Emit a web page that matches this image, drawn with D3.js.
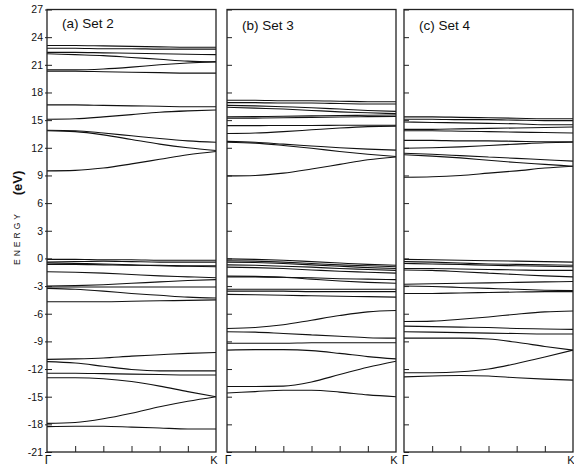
<!DOCTYPE html>
<html><head><meta charset="utf-8">
<script src="https://cdn.jsdelivr.net/npm/d3@7"></script>
<style>body{margin:0;background:#fff}svg{display:block}text{font-family:"Liberation Sans",Arial,sans-serif;fill:#111}</style>
</head><body>
<script>
// ---- data ----
const kPoints = [0,1,2,3,4,5,6];
const yTicks = [27,24,21,18,15,12,9,6,3,0,-3,-6,-9,-12,-15,-18,-21];
const panelTitles = ["(a) Set 2","(b) Set 3","(c) Set 4"];
const set2Bands = [
 [23.1,23.1,23.05,23.0,22.95,22.9,22.9],
 [22.8,22.8,22.75,22.75,22.7,22.7,22.7],
 [22.35,22.35,22.3,22.25,22.2,22.15,22.1],
 [22.2,22.1,22.0,21.8,21.6,21.4,21.3],
 [20.45,20.45,20.55,20.75,21.0,21.2,21.35],
 [20.3,20.3,20.25,20.2,20.15,20.1,20.1],
 [16.65,16.65,16.6,16.55,16.5,16.45,16.45],
 [15.1,15.15,15.35,15.6,15.85,16.0,16.1],
 [13.9,13.85,13.6,13.3,13.0,12.75,12.6],
 [13.85,13.75,13.4,12.9,12.4,12.0,11.7],
 [9.5,9.55,9.8,10.25,10.75,11.25,11.6],
 [-0.1,-0.1,-0.15,-0.15,-0.2,-0.2,-0.2],
 [-0.4,-0.35,-0.3,-0.35,-0.4,-0.4,-0.4],
 [-0.5,-0.55,-0.6,-0.7,-0.8,-0.85,-0.9],
 [-0.65,-0.65,-0.7,-0.75,-0.75,-0.8,-0.8],
 [-1.45,-1.5,-1.6,-1.75,-1.9,-2.0,-2.1],
 [-3.0,-2.95,-2.85,-2.7,-2.55,-2.4,-2.3],
 [-3.1,-3.1,-3.1,-3.1,-3.1,-3.1,-3.1],
 [-3.25,-3.35,-3.55,-3.8,-4.0,-4.2,-4.3],
 [-4.7,-4.7,-4.7,-4.65,-4.6,-4.55,-4.5],
 [-10.95,-10.9,-10.8,-10.6,-10.45,-10.3,-10.2],
 [-11.2,-11.35,-11.7,-12.05,-12.2,-12.2,-12.2],
 [-12.45,-12.45,-12.5,-12.55,-12.6,-12.65,-12.65],
 [-12.95,-12.95,-13.05,-13.35,-13.85,-14.45,-15.0],
 [-17.9,-17.8,-17.4,-16.8,-16.1,-15.5,-15.0],
 [-18.25,-18.2,-18.2,-18.3,-18.4,-18.5,-18.5]
];
const set3Bands = [
 [17.15,17.15,17.1,17.1,17.05,17.0,17.0],
 [16.9,16.9,16.85,16.85,16.8,16.75,16.75],
 [16.6,16.55,16.45,16.35,16.2,16.05,15.95],
 [16.4,16.3,16.2,16.05,15.9,15.8,15.7],
 [15.35,15.38,15.42,15.46,15.5,15.53,15.55],
 [15.2,15.22,15.26,15.3,15.34,15.38,15.4],
 [14.4,14.4,14.42,14.42,14.44,14.45,14.45],
 [13.55,13.6,13.75,13.95,14.15,14.3,14.35],
 [12.7,12.6,12.4,12.2,12.0,11.85,11.75],
 [12.6,12.5,12.25,11.95,11.6,11.3,11.05],
 [8.95,9.0,9.25,9.7,10.2,10.7,11.0],
 [-0.05,-0.1,-0.2,-0.35,-0.5,-0.65,-0.75],
 [-0.25,-0.3,-0.4,-0.55,-0.7,-0.8,-0.9],
 [-0.4,-0.45,-0.55,-0.7,-0.85,-1.0,-1.1],
 [-0.7,-0.75,-0.85,-0.95,-1.1,-1.2,-1.3],
 [-0.95,-1.0,-1.1,-1.25,-1.4,-1.5,-1.6],
 [-1.9,-1.95,-2.05,-2.25,-2.45,-2.6,-2.7],
 [-2.0,-2.0,-2.05,-2.1,-2.2,-2.25,-2.3],
 [-3.35,-3.35,-3.35,-3.35,-3.35,-3.35,-3.35],
 [-3.55,-3.55,-3.55,-3.6,-3.6,-3.6,-3.6],
 [-3.9,-3.95,-4.0,-4.05,-4.1,-4.15,-4.2],
 [-7.6,-7.5,-7.2,-6.7,-6.2,-5.8,-5.65],
 [-7.95,-8.0,-8.15,-8.3,-8.45,-8.6,-8.65],
 [-9.2,-9.2,-9.2,-9.15,-9.15,-9.15,-9.15],
 [-9.95,-9.9,-9.9,-10.0,-10.3,-10.65,-10.9],
 [-13.9,-13.9,-13.85,-13.4,-12.6,-11.8,-11.15],
 [-14.6,-14.45,-14.3,-14.3,-14.5,-14.8,-15.0]
];
const set4Bands = [
 [15.35,15.35,15.3,15.25,15.2,15.15,15.15],
 [15.1,15.1,15.05,15.05,15.0,14.95,14.95],
 [14.8,14.75,14.7,14.65,14.6,14.5,14.5],
 [14.0,14.0,14.05,14.1,14.15,14.2,14.25],
 [13.85,13.85,13.8,13.75,13.7,13.65,13.6],
 [12.8,12.8,12.75,12.75,12.7,12.65,12.65],
 [11.95,12.0,12.1,12.25,12.4,12.55,12.6],
 [11.4,11.3,11.15,11.0,10.85,10.7,10.55],
 [11.25,11.1,10.9,10.65,10.4,10.2,10.0],
 [8.8,8.85,9.0,9.25,9.5,9.8,10.0],
 [-0.1,-0.15,-0.2,-0.25,-0.3,-0.35,-0.4],
 [-0.35,-0.4,-0.5,-0.6,-0.65,-0.7,-0.75],
 [-0.55,-0.6,-0.65,-0.75,-0.8,-0.85,-0.9],
 [-1.1,-1.1,-1.15,-1.2,-1.25,-1.3,-1.3],
 [-1.25,-1.3,-1.45,-1.6,-1.75,-1.9,-2.0],
 [-2.8,-2.75,-2.7,-2.65,-2.6,-2.55,-2.5],
 [-3.0,-3.05,-3.15,-3.25,-3.35,-3.45,-3.5],
 [-3.8,-3.8,-3.75,-3.7,-3.65,-3.6,-3.6],
 [-6.85,-6.8,-6.6,-6.35,-6.05,-5.8,-5.7],
 [-7.35,-7.4,-7.45,-7.5,-7.6,-7.65,-7.7],
 [-7.95,-8.0,-8.05,-8.1,-8.15,-8.2,-8.2],
 [-8.65,-8.65,-8.65,-8.75,-9.1,-9.55,-9.95],
 [-12.4,-12.4,-12.3,-12.0,-11.4,-10.7,-9.95],
 [-12.85,-12.75,-12.7,-12.75,-12.95,-13.1,-13.2]
];
const allSets = [set2Bands, set3Bands, set4Bands];

// ---- layout ----
const W = 574, H = 466;
const panelX = [[47,216],[227,396],[404,573]];
const plotTop = 9.5, plotBottom = 452;
const svg = d3.select("body").append("svg").attr("width",W).attr("height",H);
const y = d3.scaleLinear().domain([-21,27]).range([plotBottom, plotTop]);

panelX.forEach((px, i) => {
  const x = d3.scaleLinear().domain([0,6]).range(px);
  const g = svg.append("g");
  const line = d3.line().x((d,j)=>x(kPoints[j])).y(d=>y(d)).curve(d3.curveMonotoneX);
  g.selectAll("path.band").data(allSets[i]).join("path")
    .attr("class","band").attr("d", line)
    .attr("fill","none").attr("stroke","#111").attr("stroke-width",1.1);
  const yAx = d3.axisRight(y).tickValues(yTicks).tickSize(5).tickFormat("");
  const ya = g.append("g").attr("transform",`translate(${px[0]},0)`).call(yAx);
  ya.select(".domain").remove();
  ya.selectAll("line").attr("stroke","#222");
  const xAx = d3.axisTop(x).tickValues([1,2,3,4,5]).tickSize(6).tickFormat("");
  const xa = g.append("g").attr("transform",`translate(0,${plotBottom})`).call(xAx);
  xa.select(".domain").remove();
  xa.selectAll("line").attr("stroke","#222");
  g.append("rect").attr("x",px[0]).attr("y",plotTop).attr("width",px[1]-px[0]).attr("height",plotBottom-plotTop)
    .attr("fill","none").attr("stroke","#222").attr("stroke-width",1.3);
  g.append("text").attr("x",px[0]+15).attr("y", i===0?28:30).attr("font-size",13.5).text(panelTitles[i]);
  g.append("text").attr("x",px[0]+1).attr("y",464).attr("font-size",12).attr("text-anchor","middle").text("Γ");
  g.append("text").attr("x",px[1]-2).attr("y",464).attr("font-size",11).attr("text-anchor","middle").text("K");
});

const yl = svg.append("g").attr("transform",`translate(${panelX[0][0]},0)`)
  .call(d3.axisLeft(y).tickValues(yTicks).tickSize(2).tickPadding(2).tickFormat(d=>d<0?"-"+Math.abs(d):d));
yl.select(".domain").remove();
yl.selectAll("text").attr("font-size",10.5).attr("font-family","Liberation Sans, Arial, sans-serif").attr("fill","#111");
yl.selectAll("line").attr("stroke","#222");

svg.append("text").attr("transform","translate(22,183) rotate(-90)").attr("text-anchor","middle")
  .attr("font-size",13).attr("font-weight","bold").text("(eV)");
svg.append("text").attr("transform","translate(20,238) rotate(-90)").attr("text-anchor","middle")
  .attr("font-size",8.5).attr("letter-spacing",3).text("ENERGY");
</script>
</body></html>
